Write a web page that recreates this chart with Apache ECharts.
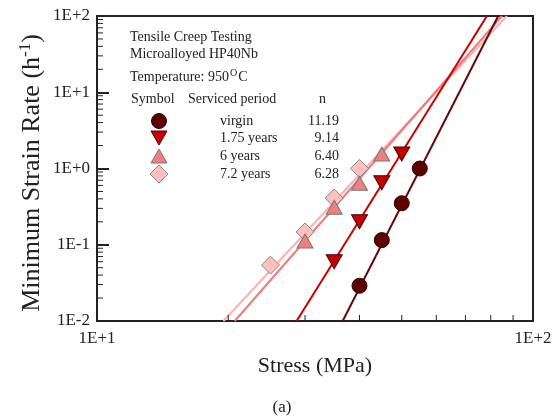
<!DOCTYPE html>
<html>
<head>
<meta charset="utf-8">
<script src="https://cdn.jsdelivr.net/npm/echarts@6/dist/echarts.min.js"></script>
<style>
html,body{margin:0;padding:0;background:#fff;}
#c{width:560px;height:420px;}
</style>
</head>
<body>
<div id="c"></div>
<script>
// ---- data ----
const seriesNames = ['virgin', '1.75 years', '6 years', '7.2 years'];
const nValues = ['11.19', '9.14', '6.40', '6.28'];

const virginStress = [40, 45, 50, 55];
const virginRate = [0.029, 0.115, 0.35, 1.0];
const y175Stress = [35, 40, 45, 50];
const y175Rate = [0.06, 0.2, 0.65, 1.55];
const y6Stress = [30, 35, 40, 45];
const y6Rate = [0.112, 0.31, 0.64, 1.55];
const y72Stress = [25, 30, 35, 40];
const y72Rate = [0.054, 0.147, 0.41, 1.0];

// fitted lines: stress where each line crosses the bottom (1E-2) and top (1E+2) of the plot
const fitRateEnds = [0.01, 100];
const virginFitStress = [36.6, 83.2];
const y175FitStress = [28.7, 78.4];
const y6FitStress = [20.7, 84.9];
const y72FitStress = [19.5, 87.1];

const xTickLabels = {10: '1E+1', 100: '1E+2'};
const yTickLabels = {0.01: '1E-2', 0.1: '1E-1', 1: '1E+0', 10: '1E+1', 100: '1E+2'};
const xMinorTicks = [20, 30, 40, 50, 60, 70, 80, 90];
const yMinorTicks = [0.02,0.03,0.04,0.05,0.06,0.07,0.08,0.09,
                     0.2,0.3,0.4,0.5,0.6,0.7,0.8,0.9,
                     2,3,4,5,6,7,8,9,
                     20,30,40,50,60,70,80,90];

// ---- styling ----
const SERIF = '"Liberation Serif", "Times New Roman", serif';
const colors = {
  virgin: {fill: '#5e0000', line: '#650808', border: '#2a0000'},
  y175: {fill: '#c40000', line: '#c80000', border: '#500000'},
  y6: {fill: '#f08080', line: '#f07a7a', border: '#777777'},
  y72: {fill: '#ffbfbf', line: '#ffb0b0', border: '#888888'}
};

function zip(xs, ys) { return xs.map((x, i) => [x, ys[i]]); }
function lineFit(xs, color) {
  return {
    type: 'line', data: zip(xs, fitRateEnds), showSymbol: false, silent: true,
    lineStyle: {color: color, width: 2}, z: 2, animation: false
  };
}
function scatter(name, xs, ys, symbol, size, c, rotate) {
  return {
    name: name, type: 'scatter', data: zip(xs, ys), symbol: symbol, symbolSize: size,
    symbolRotate: rotate || 0,
    itemStyle: {color: c.fill, borderColor: c.border, borderWidth: 1, opacity: 1},
    z: 5, animation: false
  };
}
function tickSeries(values, isX) {
  return {
    type: 'custom', silent: true, animation: false, z: 6, clip: false,
    data: values.map(v => isX ? [v, 0.01] : [10, v]),
    renderItem: function (params, api) {
      const p = api.coord([api.value(0), api.value(1)]);
      return {
        type: 'line',
        shape: isX ? {x1: p[0], y1: p[1], x2: p[0], y2: p[1] - 6}
                   : {x1: p[0], y1: p[1], x2: p[0] + 6, y2: p[1]},
        style: {stroke: '#222', lineWidth: 1}
      };
    }
  };
}

const chart = echarts.init(document.getElementById('c'), null, {renderer: 'canvas'});

const legendX = 159, legendRows = [121, 138, 156, 174];
const textColor = '#222';
const F = '14px ' + SERIF;

const graphics = [
  {type: 'text', x: 130, y: 37, style: {text: 'Tensile Creep Testing', font: F, fill: textColor, verticalAlign: 'middle'}},
  {type: 'text', x: 130, y: 54, style: {text: 'Microalloyed HP40Nb', font: F, fill: textColor, verticalAlign: 'middle'}},
  {type: 'text', x: 130, y: 77, style: {
    text: 'Temperature: 950{sup|O}C', font: F, fill: textColor, verticalAlign: 'middle',
    rich: {sup: {fontSize: 10, fontFamily: SERIF, padding: [0, 1, 7, 1]}}
  }},
  {type: 'text', x: 131, y: 99, style: {text: 'Symbol', font: F, fill: textColor, verticalAlign: 'middle'}},
  {type: 'text', x: 188, y: 99, style: {text: 'Serviced period', font: F, fill: textColor, verticalAlign: 'middle'}},
  {type: 'text', x: 319, y: 99, style: {text: 'n', font: F, fill: textColor, verticalAlign: 'middle'}},
  // axis titles
  {type: 'text', x: 32, y: 173, rotation: Math.PI / 2, style: {
    text: 'Minimum Strain Rate (h{sup|-1})', font: '26px ' + SERIF, fill: textColor,
    align: 'center', verticalAlign: 'middle',
    rich: {sup: {fontSize: 17, fontFamily: SERIF, padding: [0, 0, 12, 0]}}
  }},
  {type: 'text', x: 315, y: 366, style: {text: 'Stress (MPa)', font: '22px ' + SERIF, fill: textColor, align: 'center', verticalAlign: 'middle'}},
  {type: 'text', x: 282, y: 408, style: {text: '(a)', font: '17px ' + SERIF, fill: textColor, align: 'center', verticalAlign: 'middle'}}
];

// legend rows (keys + labels)
const keyStyles = [colors.virgin, colors.y175, colors.y6, colors.y72];
legendRows.forEach((cy, i) => {
  const c = keyStyles[i];
  let shape;
  if (i === 0) shape = {type: 'circle', shape: {cx: legendX, cy: cy, r: 7.5}};
  else if (i === 1) shape = {type: 'polygon', shape: {points: [[legendX - 8, cy - 7], [legendX + 8, cy - 7], [legendX, cy + 7]]}};
  else if (i === 2) shape = {type: 'polygon', shape: {points: [[legendX - 8, cy + 7], [legendX + 8, cy + 7], [legendX, cy - 7]]}};
  else shape = {type: 'polygon', shape: {points: [[legendX, cy - 9], [legendX + 9, cy], [legendX, cy + 9], [legendX - 9, cy]]}};
  shape.style = {fill: c.fill, stroke: c.border, lineWidth: 1};
  graphics.push(shape);
  graphics.push({type: 'text', x: 220, y: cy, style: {text: seriesNames[i], font: F, fill: textColor, verticalAlign: 'middle'}});
  graphics.push({type: 'text', x: 339, y: cy, style: {text: nValues[i], font: F, fill: textColor, align: 'right', verticalAlign: 'middle'}});
});

chart.setOption({
  animation: false,
  backgroundColor: '#fff',
  grid: {left: 97, top: 16, right: 27, bottom: 99, show: true, borderColor: '#222', borderWidth: 2, containLabel: false},
  xAxis: {
    type: 'log', logBase: 10, min: 10, max: 100,
    axisLine: {show: true, lineStyle: {color: '#222', width: 2}},
    axisTick: {show: true, inside: true, length: 10, lineStyle: {color: '#222'}},
    minorTick: {show: false},
    splitLine: {show: false},
    axisLabel: {
      margin: 9, color: textColor, fontFamily: SERIF, fontSize: 17,
      formatter: v => xTickLabels[Math.round(v)] || ''
    }
  },
  yAxis: {
    type: 'log', logBase: 10, min: 0.01, max: 100,
    axisLine: {show: true, lineStyle: {color: '#222', width: 2}},
    axisTick: {show: true, inside: true, length: 12, lineStyle: {color: '#222', width: 2}},
    minorTick: {show: false},
    splitLine: {show: false},
    axisLabel: {
      margin: 7, color: textColor, fontFamily: SERIF, fontSize: 17,
      formatter: v => {
        const k = Object.keys(yTickLabels).find(key => Math.abs(Math.log10(+key) - Math.log10(v)) < 1e-6);
        return k ? yTickLabels[k] : '';
      }
    }
  },
  series: [
    lineFit(y72FitStress, colors.y72.line),
    lineFit(y6FitStress, colors.y6.line),
    lineFit(y175FitStress, colors.y175.line),
    lineFit(virginFitStress, colors.virgin.line),
    scatter(seriesNames[3], y72Stress, y72Rate, 'diamond', [18, 18], colors.y72),
    scatter(seriesNames[2], y6Stress, y6Rate, 'triangle', [16, 14], colors.y6),
    scatter(seriesNames[1], y175Stress, y175Rate, 'triangle', [16, 14], colors.y175, 180),
    scatter(seriesNames[0], virginStress, virginRate, 'circle', 15, colors.virgin),
    tickSeries(xMinorTicks, true),
    tickSeries(yMinorTicks, false)
  ],
  graphic: graphics
});
</script>
</body>
</html>
